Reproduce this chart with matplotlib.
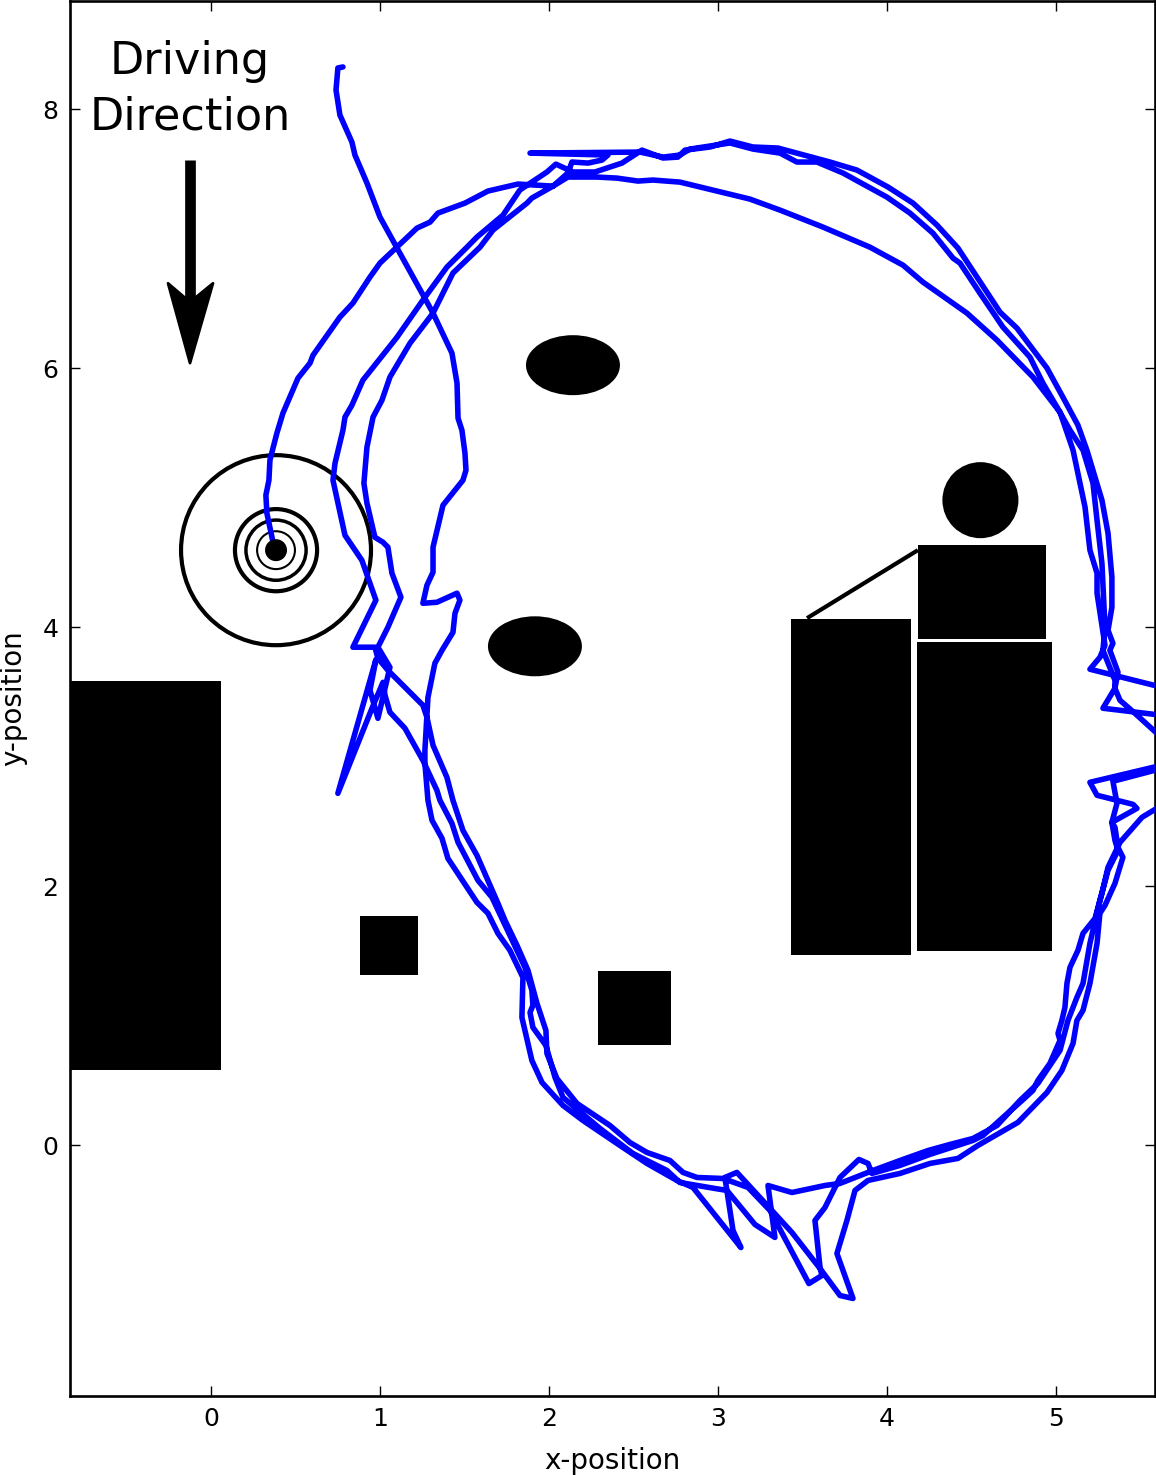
import matplotlib
matplotlib.use("Agg")
import matplotlib.pyplot as plt
from matplotlib.patches import Rectangle, Ellipse, Polygon

# driving trajectory (x, y) in metres; points at x=5.675 lie beyond the right axis limit
path_x = [0.37,0.331,0.325,0.343,0.349,0.39,0.426,0.515,0.586,0.604,0.763,0.84,0.941,1.0,1.101,1.219,1.296,1.343,1.503,1.639,1.817,2.024,2.112,2.284,2.402,2.527,2.615,2.775,3.189,3.367,3.621,3.899,4.095,4.213,4.473,4.651,4.864,5.024,5.101,5.172,5.201,5.243,5.243,5.29,5.26,5.201,5.675,
5.675,5.509,5.379,5.308,5.272,5.231,5.16,5.13,5.083,5.065,5.053,5.035,5.012,5.024,4.964,4.893,4.864,4.799,4.686,4.568,4.509,4.254,4.077,3.911,3.888,3.834,3.722,3.633,3.574,3.604,3.615,3.538,3.308,3.178,3.03,2.876,2.793,2.716,2.58,2.479,2.361,2.166,2.047,1.988,1.982,1.929,1.876,1.811,1.74,1.698,1.574,1.491,1.432,1.396,1.314,1.278,1.254,1.047,0.988,0.97,0.84,0.976,0.893,0.793,0.722,0.734,0.781,0.793,0.834,0.899,1.101,1.254,1.396,1.515,1.574,1.728,1.828,1.988,2.041,2.142,2.272,2.432,2.55,2.675,2.763,2.805,2.953,3.071,3.207,3.355,3.663,3.822,4.006,4.154,4.296,4.42,4.533,4.669,4.769,4.947,5.041,5.13,5.183,5.272,5.308,5.331,5.331,5.308,5.337,5.319,5.367,5.349,5.278,5.675,
5.675,5.337,5.361,5.331,5.349,5.367,5.308,5.26,5.201,5.16,5.124,5.071,5.024,4.893,4.787,4.651,4.509,4.373,4.243,4.077,3.917,3.722,3.633,3.438,3.296,3.337,3.219,3.053,2.982,2.775,2.698,2.497,2.302,2.083,2.036,1.982,1.905,1.888,1.905,1.899,1.858,1.663,1.58,1.462,1.426,1.355,1.337,1.254,1.148,1.059,1.03,1.018,0.953,0.751,0.976,0.941,0.988,1.041,1.059,0.988,1.047,1.124,1.071,1.047,1.018,0.97,0.923,0.905,0.923,0.959,1.012,1.059,1.178,1.314,1.432,1.592,1.669,1.87,1.899,2.024,2.112,2.136,2.231,2.314,2.349,1.888,2.538,2.675,2.775,2.834,3.071,3.207,3.367,3.467,3.586,3.74,4.0,4.136,4.272,4.391,4.432,4.55,4.686,4.846,4.923,5.006,5.083,5.16,5.219,5.243,5.272,5.29,5.278,5.349,5.349,5.379,5.467,5.675,
5.675,5.201,5.243,5.456,5.479,5.331,5.349,5.367,5.396,5.349,5.29,5.26,5.243,5.201,5.16,5.124,5.101,5.035,4.947,4.775,4.538,4.42,4.254,4.077,3.888,3.811,3.763,3.704,3.799,3.722,3.604,3.438,3.308,3.112,3.041,3.089,3.136,2.994,2.852,2.757,2.58,2.42,2.201,2.083,1.959,1.899,1.84,1.846,1.769,1.698,1.639,1.574,1.402,1.367,1.308,1.284,1.266,1.266,1.284,1.325,1.367,1.432,1.444,1.473,1.456,1.337,1.254,1.278,1.314,1.314,1.373,1.491,1.509,1.503,1.485,1.462,1.456,1.426,1.314,1.101,1.0,0.923,0.852,0.834,0.763,0.74,0.751,0.781]
path_y = [4.64,4.88,5.019,5.135,5.29,5.498,5.653,5.923,6.039,6.1,6.394,6.502,6.703,6.811,6.935,7.081,7.127,7.197,7.274,7.367,7.421,7.405,7.475,7.475,7.467,7.444,7.452,7.436,7.305,7.22,7.089,6.934,6.795,6.664,6.425,6.216,5.931,5.66,5.367,4.927,4.595,4.417,4.263,3.861,3.768,3.676,3.521,
2.664,2.533,2.34,2.147,1.946,1.753,1.637,1.506,1.375,1.251,1.066,0.965,0.865,0.811,0.633,0.502,0.425,0.347,0.216,0.077,0.039,-0.069,-0.154,-0.216,-0.139,-0.108,-0.247,-0.479,-0.579,-0.942,-1.004,-1.066,-0.502,-0.324,-0.255,-0.247,-0.208,-0.116,-0.054,0.023,0.154,0.324,0.517,0.71,0.888,1.097,1.351,1.544,1.737,1.869,2.239,2.432,2.664,2.842,3.089,3.305,3.398,3.668,3.761,3.846,3.846,4.209,4.517,4.71,5.135,5.266,5.521,5.622,5.714,5.907,6.239,6.525,6.78,6.934,7.012,7.181,7.375,7.514,7.575,7.514,7.514,7.583,7.683,7.622,7.629,7.683,7.707,7.753,7.707,7.699,7.591,7.529,7.398,7.274,7.104,6.927,6.703,6.432,6.309,6.0,5.776,5.56,5.367,4.981,4.726,4.386,4.154,3.977,3.876,3.822,3.653,3.529,3.375,3.313,
2.927,2.811,2.641,2.494,2.355,2.278,2.124,1.892,1.56,1.251,1.143,0.965,0.734,0.479,0.347,0.154,0.054,0.008,-0.039,-0.116,-0.193,-0.293,-0.309,-0.363,-0.309,-0.71,-0.61,-0.347,-0.332,-0.286,-0.193,-0.062,0.131,0.371,0.525,0.772,0.911,1.027,1.081,1.197,1.375,1.915,2.046,2.34,2.486,2.664,2.741,2.973,3.22,3.344,3.475,3.575,3.375,2.718,3.75,3.514,3.297,3.591,3.691,3.846,4.0,4.232,4.417,4.618,4.656,4.695,4.958,5.112,5.39,5.622,5.753,5.931,6.193,6.425,6.734,6.934,7.066,7.274,7.313,7.405,7.506,7.591,7.583,7.606,7.645,7.66,7.668,7.629,7.645,7.691,7.738,7.691,7.66,7.591,7.591,7.506,7.32,7.197,7.042,6.849,6.811,6.579,6.317,6.085,5.884,5.699,5.521,5.367,5.112,4.826,4.494,4.0,3.822,3.591,3.529,3.436,3.336,3.089,
2.95,2.803,2.703,2.633,2.602,2.494,2.456,2.301,2.224,2.023,1.853,1.792,1.56,1.251,1.043,0.965,0.788,0.579,0.409,0.178,0.0,-0.1,-0.139,-0.216,-0.27,-0.347,-0.579,-0.834,-1.181,-1.158,-0.95,-0.672,-0.486,-0.208,-0.247,-0.656,-0.788,-0.556,-0.324,-0.27,-0.139,0.0,0.193,0.309,0.486,0.656,0.988,1.297,1.506,1.637,1.792,1.876,2.216,2.371,2.51,2.664,2.95,3.05,3.459,3.722,3.822,3.961,4.108,4.209,4.263,4.193,4.185,4.324,4.425,4.618,4.942,5.135,5.212,5.344,5.521,5.614,5.884,6.116,6.425,6.927,7.166,7.429,7.645,7.745,7.954,8.147,8.317,8.325]

# obstacles: rectangles (left, bottom, width, height)
rect_x = [-0.9, 0.882, 2.29, 3.432, 4.178, 4.183]
rect_y = [0.579, 1.313, 0.772, 1.467, 1.498, 3.907]
rect_w = [0.959, 0.343, 0.432, 0.71, 0.798, 0.758]
rect_h = [3.004, 0.455, 0.572, 2.595, 2.386, 0.726]
# obstacles: ellipses (centre, width, height)
ell_x = [2.142, 1.917, 4.553]
ell_y = [6.023, 3.853, 4.981]
ell_w = [0.556, 0.556, 0.45]
ell_h = [0.463, 0.463, 0.587]
# connector between boxes
link_x = [3.527, 4.183]
link_y = [4.07, 4.595]
# start marker with rings (radius in x units, line width)
start_x, start_y = 0.385, 4.595
ring_r = [0.562, 0.243, 0.178, 0.112]
ring_lw = [3.0, 3.0, 2.5, 1.5]
dot_r = 0.065
# direction arrow
shaft_x = [-0.124, -0.124]
shaft_y = [7.606, 6.5]
head_x = [-0.124, -0.254, -0.124, 0.012]
head_y = [6.039, 6.655, 6.51, 6.655]

xticks = [0, 1, 2, 3, 4, 5]
yticks = [0, 2, 4, 6, 8]

W, H = 1156, 1475
fig = plt.figure(figsize=(W/100, H/100), dpi=100)
ax = fig.add_axes([69.5/W, 1-1395.5/H, (1155-69.5)/W, (1395.5-1)/H])
ax.set_xlim(-0.837, 5.586)
ax.set_ylim(-1.93, 8.834)
yx = 169/129.5

for x, y, w, h in zip(rect_x, rect_y, rect_w, rect_h):
    ax.add_patch(Rectangle((x, y), w, h, fc='k', ec='none', zorder=2))
for x, y, w, h in zip(ell_x, ell_y, ell_w, ell_h):
    ax.add_patch(Ellipse((x, y), w, h, fc='k', ec='none', zorder=2))
ax.plot(link_x, link_y, color='k', lw=3.0, solid_capstyle='butt', zorder=2)
for r, lw in zip(ring_r, ring_lw):
    ax.add_patch(Ellipse((start_x, start_y), 2*r, 2*r*yx, fc='none', ec='k', lw=lw, zorder=2))
ax.plot(path_x, path_y, color='#0000ff', lw=4.0, solid_joinstyle='round',
        solid_capstyle='round', zorder=3)
ax.add_patch(Ellipse((start_x, start_y), 2*dot_r, 2*dot_r*yx, fc='k', ec='none', zorder=4))

ax.text(-0.124, 8.15, 'Driving\nDirection', ha='center', va='center', fontsize=32,
        linespacing=1.36, color='k')
ax.plot(shaft_x, shaft_y, color='k', lw=7.7, solid_capstyle='butt', zorder=2)
ax.add_patch(Polygon(list(zip(head_x, head_y)), closed=True, fc='k', ec='k', lw=2,
                     joinstyle='round', zorder=2))

ax.set_xticks(xticks)
ax.set_yticks(yticks)
ax.tick_params(axis='both', which='major', direction='in', top=True, right=True,
               length=7, width=1, labelsize=18, pad=8)
ax.set_xlabel('x-position', fontsize=20, labelpad=12)
ax.set_ylabel('y-position', fontsize=20, labelpad=11)
for s in ax.spines.values():
    s.set_linewidth(1.9)
fig.savefig('out.png', dpi=100)
